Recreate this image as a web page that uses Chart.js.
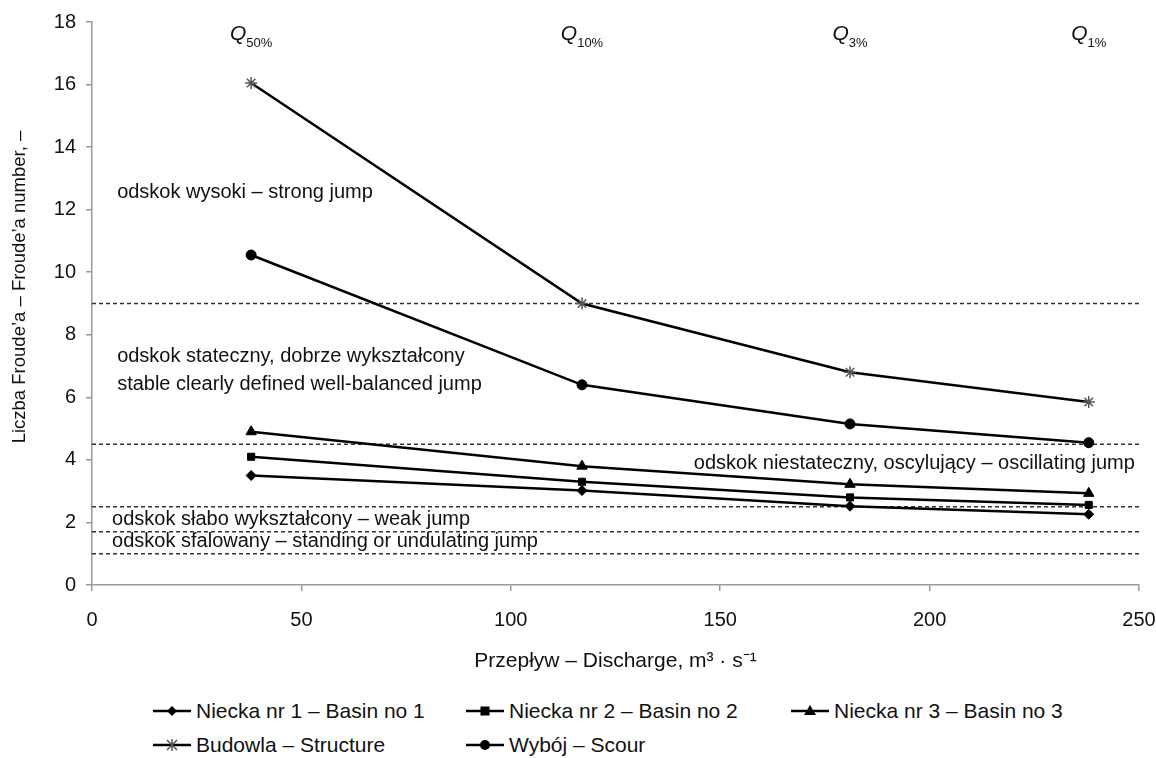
<!DOCTYPE html>
<html lang="pl">
<head>
    <meta charset="utf8" />
    <script src="https://cdn.jsdelivr.net/npm/chart.js@4.4.1/dist/chart.umd.min.js"></script>
    <title>Liczba Froude'a</title>
    <style>
        html, body { margin: 0; padding: 0; background: #fff; }
        body { font-family: "Liberation Sans", Arial, sans-serif; color: #111; width: 1156px; height: 758px; overflow: hidden; }
        #wrap { position: relative; width: 1156px; height: 680px; }
        .legend { position: absolute; left: 152px; top: 694px; width: 1000px; font-size: 21px; }
        .legend .row { display: flex; height: 34px; align-items: center; }
        .legend .item { display: flex; align-items: center; }
        .legend svg { margin-right: 4px; }
    </style>
</head>
<body>
    <div id="wrap"><canvas id="chart"></canvas></div>
    <div class="legend" id="legend"></div>

    <script>
        // discharge values (m3/s) for Q50%, Q10%, Q3%, Q1%
        const discharge = [38, 117, 181, 238];
        const flowLabels = ['50%', '10%', '3%', '1%'];

        const basin1 = [3.5, 3.02, 2.52, 2.26];
        const basin2 = [4.1, 3.3, 2.8, 2.56];
        const basin3 = [4.9, 3.8, 3.22, 2.93];
        const structure = [16.05, 9.0, 6.8, 5.85];
        const scour = [10.55, 6.4, 5.15, 4.55];

        // Froude number limits between jump types
        const limits = [1, 1.7, 2.5, 4.5, 9];
        const yTicks = [0, 2, 4, 6, 8, 10, 12, 14, 16, 18];
        const xTicks = [0, 50, 100, 150, 200, 250];

        const seriesNames = [
            'Niecka nr 1 – Basin no 1',
            'Niecka nr 2 – Basin no 2',
            'Niecka nr 3 – Basin no 3',
            'Budowla – Structure',
            'Wybój – Scour'
        ];

        const FONT = '"Liberation Sans", Arial, sans-serif';

        const toPoints = vals => vals.map((v, i) => ({ x: discharge[i], y: v }));

        const styles = [
            { pointStyle: 'rectRot', radius: 5, color: '#000' },
            { pointStyle: 'rect', radius: 5, color: '#000' },
            { pointStyle: 'triangle', radius: 6, color: '#000' },
            { pointStyle: 'star', radius: 6, color: '#555' },
            { pointStyle: 'circle', radius: 5, color: '#000' }
        ];

        const lineData = [basin1, basin2, basin3, structure, scour];

        const datasets = lineData.map((vals, i) => ({
            label: seriesNames[i],
            data: toPoints(vals),
            borderColor: '#000',
            borderWidth: 2.5,
            pointStyle: styles[i].pointStyle,
            pointRadius: styles[i].radius,
            pointBackgroundColor: styles[i].color,
            pointBorderColor: styles[i].color,
            pointBorderWidth: i === 3 ? 1.5 : 1,
            showLine: true,
            order: 1
        }));

        // horizontal dashed limit lines across the plot
        limits.forEach(v => {
            datasets.push({
                label: 'limit ' + v,
                data: [{ x: xTicks[0], y: v }, { x: xTicks[xTicks.length - 1], y: v }],
                borderColor: '#333',
                borderWidth: 1.5,
                borderDash: [4, 3],
                pointRadius: 0,
                showLine: true,
                order: 2
            });
        });

        // region descriptions, placed in data units
        const regionTexts = [
            { text: 'odskok wysoki – strong jump', x: 6, y: 12.55, align: 'left' },
            { text: 'odskok stateczny, dobrze wykształcony', x: 6, y: 7.3, align: 'left' },
            { text: 'stable clearly defined well-balanced jump', x: 6, y: 6.4, align: 'left' },
            { text: 'odskok niestateczny, oscylujący – oscillating jump', x: 249, y: 3.87, align: 'right' },
            { text: 'odskok słabo wykształcony – weak jump', x: 4.8, y: 2.1, align: 'left' },
            { text: 'odskok sfalowany – standing or undulating jump', x: 4.8, y: 1.4, align: 'left' }
        ];

        const textPlugin = {
            id: 'texts',
            afterDatasetsDraw(chart) {
                const { ctx, scales: { x, y } } = chart;
                ctx.save();
                ctx.fillStyle = '#111';
                ctx.textBaseline = 'middle';
                ctx.font = '20px ' + FONT;
                regionTexts.forEach(t => {
                    ctx.textAlign = t.align;
                    ctx.fillText(t.text, x.getPixelForValue(t.x), y.getPixelForValue(t.y));
                });
                // Q labels above each discharge
                discharge.forEach((d, i) => {
                    const px = x.getPixelForValue(d);
                    const py = y.getPixelForValue(17.6);
                    ctx.font = 'italic 21px ' + FONT;
                    ctx.textAlign = 'left';
                    const qw = ctx.measureText('Q').width;
                    ctx.font = '13px ' + FONT;
                    const sw = ctx.measureText(flowLabels[i]).width;
                    const start = px - (qw + sw) / 2;
                    ctx.font = 'italic 21px ' + FONT;
                    ctx.fillText('Q', start, py);
                    ctx.font = '13px ' + FONT;
                    ctx.fillText(flowLabels[i], start + qw, py + 9);
                });
                // y axis title
                ctx.translate(20, 287);
                ctx.rotate(-Math.PI / 2);
                ctx.textAlign = 'center';
                ctx.font = '18.5px ' + FONT;
                ctx.fillText('Liczba Froude’a – Froude’a number, –', 0, 0);
                ctx.restore();
            }
        };

        new Chart(document.getElementById('chart'), {
            type: 'scatter',
            data: { datasets },
            options: {
                responsive: true,
                maintainAspectRatio: false,
                animation: false,
                layout: { padding: { top: 22, right: 0, left: 0, bottom: 0 } },
                plugins: {
                    legend: { display: false },
                    tooltip: { enabled: false }
                },
                scales: {
                    x: {
                        type: 'linear',
                        min: 0,
                        max: 250,
                        afterBuildTicks: s => { s.ticks = xTicks.map(v => ({ value: v })); },
                        afterFit: s => { s.height = 95; s.paddingRight = 17; s.paddingLeft = 0; },
                        grid: { drawOnChartArea: false, color: '#999', tickLength: 6, lineWidth: 1.5 },
                        border: { color: '#999', width: 1.5 },
                        ticks: { color: '#111', padding: 17, font: { size: 20, family: FONT } },
                        title: {
                            display: true,
                            text: 'Przepływ – Discharge, m³ · s⁻¹',
                            color: '#111',
                            padding: { top: 0, bottom: 6 },
                            font: { size: 21, family: FONT }
                        }
                    },
                    y: {
                        min: 0,
                        max: 18,
                        afterBuildTicks: s => { s.ticks = yTicks.map(v => ({ value: v })); },
                        afterFit: s => { s.width = 92; },
                        grid: { drawOnChartArea: false, color: '#999', tickLength: 6, lineWidth: 1.5 },
                        border: { color: '#999', width: 1.5 },
                        ticks: { color: '#111', padding: 10, font: { size: 20, family: FONT } }
                    }
                }
            },
            plugins: [textPlugin]
        });

        // legend with line + marker symbols
        function symbolSvg(style) {
            const c = style.color;
            let m = '';
            if (style.pointStyle === 'rectRot') m = `<polygon points="20,4 25,9 20,14 15,9" fill="${c}"/>`;
            if (style.pointStyle === 'rect') m = `<rect x="15.5" y="4.5" width="9" height="9" fill="${c}"/>`;
            if (style.pointStyle === 'triangle') m = `<polygon points="20,3 26,13 14,13" fill="${c}"/>`;
            if (style.pointStyle === 'star') m = `<path d="M15,4 L25,14 M25,4 L15,14 M20,3 L20,15" stroke="${c}" stroke-width="1.5"/>`;
            if (style.pointStyle === 'circle') m = `<circle cx="20" cy="9" r="5" fill="${c}"/>`;
            return `<svg width="40" height="18"><line x1="1" y1="9" x2="39" y2="9" stroke="#000" stroke-width="2.5"/>${m}</svg>`;
        }
        const colWidths = [313, 325, 320];
        const legendRows = [[0, 1, 2], [3, 4]];
        document.getElementById('legend').innerHTML = legendRows.map(r =>
            '<div class="row">' + r.map((idx, c) =>
                `<div class="item" style="width:${colWidths[c]}px">${symbolSvg(styles[idx])}<span>${seriesNames[idx]}</span></div>`
            ).join('') + '</div>'
        ).join('');
    </script>
</body>
</html>
